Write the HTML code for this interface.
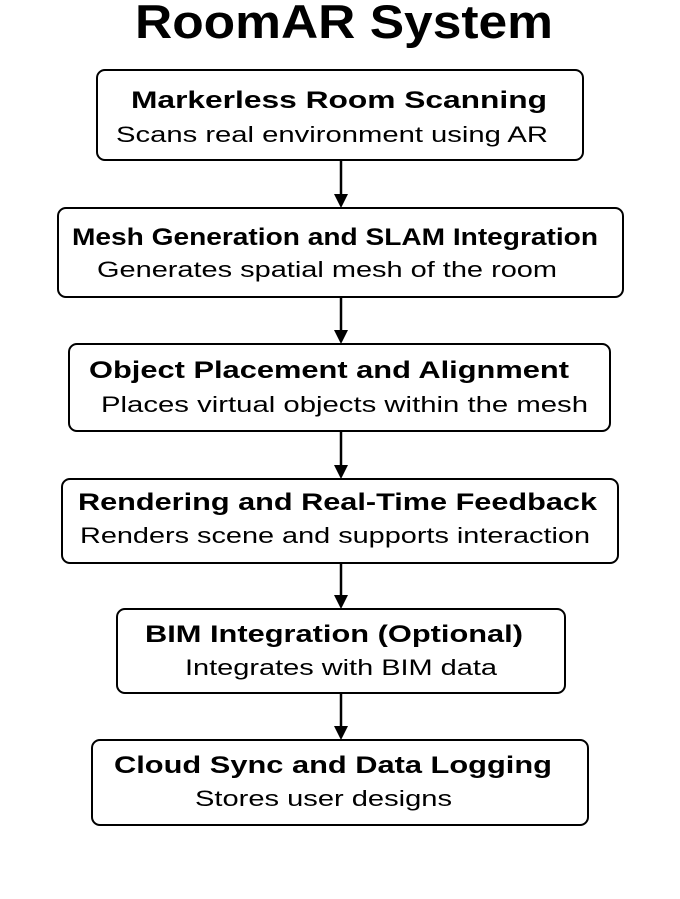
<!DOCTYPE html>
<html><head><meta charset="utf-8"><style>html,body{margin:0;padding:0;background:#fff}svg{display:block}</style></head>
<body>
<svg width="680" height="899" viewBox="0 0 680 899" xmlns="http://www.w3.org/2000/svg" font-family="Liberation Sans, Arial, sans-serif" fill="#000">
<text x="135" y="38" font-size="47" font-weight="bold" textLength="418" lengthAdjust="spacingAndGlyphs">RoomAR System</text>
<g fill="#fff" stroke="#000" stroke-width="2">
<rect x="97" y="70" width="486" height="90" rx="8"/>
<rect x="58" y="208" width="565" height="89" rx="8"/>
<rect x="69" y="344" width="541" height="87" rx="8"/>
<rect x="62" y="479" width="556" height="84" rx="8"/>
<rect x="117" y="609" width="448" height="84" rx="8"/>
<rect x="92" y="740" width="496" height="85" rx="8"/>
</g>
<g stroke="#000" stroke-width="2.5">
<line x1="341" y1="160" x2="341" y2="196"/>
<line x1="341" y1="297" x2="341" y2="332"/>
<line x1="341" y1="431" x2="341" y2="467"/>
<line x1="341" y1="563" x2="341" y2="597"/>
<line x1="341" y1="693" x2="341" y2="728"/>
</g>
<g>
<polygon points="334,194 348,194 341,208"/>
<polygon points="334,330 348,330 341,344"/>
<polygon points="334,465 348,465 341,479"/>
<polygon points="334,595 348,595 341,609"/>
<polygon points="334,726 348,726 341,740"/>
</g>
<g font-size="24" font-weight="bold">
<text x="131" y="108" textLength="416" lengthAdjust="spacingAndGlyphs">Markerless Room Scanning</text>
<text x="72" y="245" textLength="526" lengthAdjust="spacingAndGlyphs">Mesh Generation and SLAM Integration</text>
<text x="89" y="378" textLength="480" lengthAdjust="spacingAndGlyphs">Object Placement and Alignment</text>
<text x="78" y="510" textLength="519" lengthAdjust="spacingAndGlyphs">Rendering and Real-Time Feedback</text>
<text x="145" y="642" textLength="378" lengthAdjust="spacingAndGlyphs">BIM Integration (Optional)</text>
<text x="114" y="773" textLength="438" lengthAdjust="spacingAndGlyphs">Cloud Sync and Data Logging</text>
</g>
<g font-size="22.5">
<text x="116" y="142" textLength="432" lengthAdjust="spacingAndGlyphs">Scans real environment using AR</text>
<text x="97" y="277" textLength="460" lengthAdjust="spacingAndGlyphs">Generates spatial mesh of the room</text>
<text x="101" y="412" textLength="487" lengthAdjust="spacingAndGlyphs">Places virtual objects within the mesh</text>
<text x="80" y="543" textLength="510" lengthAdjust="spacingAndGlyphs">Renders scene and supports interaction</text>
<text x="185" y="675" textLength="312" lengthAdjust="spacingAndGlyphs">Integrates with BIM data</text>
<text x="195" y="806" textLength="257" lengthAdjust="spacingAndGlyphs">Stores user designs</text>
</g>
</svg>
</body></html>
